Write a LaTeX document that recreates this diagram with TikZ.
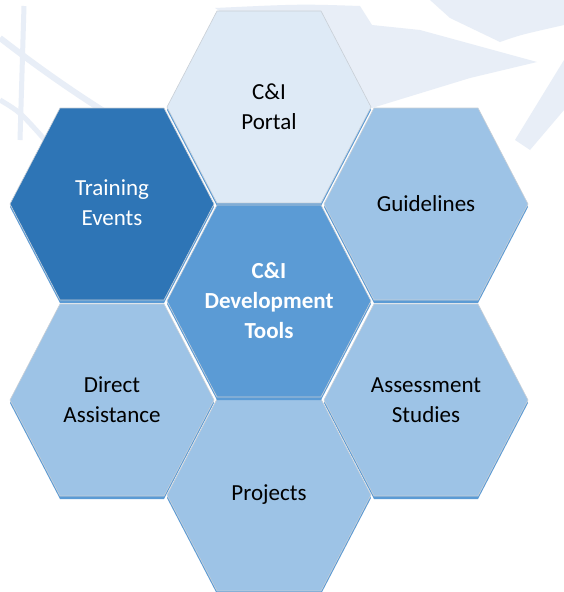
\documentclass[tikz,border=0pt]{standalone}
\usepackage{fontspec}
\setmainfont{Carlito}
\definecolor{portalfill}{HTML}{DEEAF6}
\definecolor{trainfill}{HTML}{2E75B6}
\definecolor{corefill}{HTML}{5B9BD5}
\definecolor{cellfill}{HTML}{9DC3E6}
\definecolor{cellshadow}{HTML}{5B9BD5}
\definecolor{celledge}{HTML}{C9CFD6}
\definecolor{watermark}{HTML}{E8EEF7}
\newcommand{\hexcell}[3]{%
  \fill[cellshadow] ([shift={(0,3)}]#1,#2) +(-102,0) -- +(-52,-96) -- +(52,-96) -- +(102,0) -- +(52,96) -- +(-52,96) -- cycle;
  \draw[fill=#3, draw=celledge, line width=0.6pt] (#1,#2) +(-102,0) -- +(-52,-96) -- +(52,-96) -- +(102,0) -- +(52,96) -- +(-52,96) -- cycle;}
\tikzset{
  celltext/.style={align=center, font=\fontsize{23}{30}\selectfont, text=black},
  lighttext/.style={celltext, text=white},
  coretext/.style={celltext, text=white, font=\fontsize{23}{30}\selectfont\bfseries}
}
\begin{document}
\begin{tikzpicture}[x=1pt, y=-1pt]
\useasboundingbox (0,0) rectangle (564,592);
\fill[white] (0,0) rectangle (564,592);
\draw[watermark, line width=5pt] (24,6) -- (20,140);
\draw[watermark, line width=6pt] (0,38) .. controls (35,65) and (70,90) .. (110,115);
\draw[watermark, line width=5pt] (0,100) .. controls (20,112) .. (45,140);
\fill[watermark] (215,8) .. controls (300,4) .. (360,6) -- (372,25) -- (420,30) -- (537,62) -- (470,78) -- (372,108) -- cycle;
\fill[watermark] (430,0) -- (564,0) -- (564,25) .. controls (520,35) .. (500,42) -- (450,18) -- cycle;
\fill[watermark] (564,60) -- (564,110) -- (530,150) -- (515,140) -- cycle;
\hexcell{269}{107}{portalfill}
\hexcell{112}{204}{trainfill}
\hexcell{426}{204}{cellfill}
\hexcell{112}{400}{cellfill}
\hexcell{426}{400}{cellfill}
\hexcell{269}{495}{cellfill}
\hexcell{269}{301}{corefill}
\node[celltext] (portal) at (269,107) {C\&I\\Portal};
\node[lighttext] (training) at (112,203) {Training\\Events};
\node[celltext] (guidelines) at (426,204) {Guidelines};
\node[coretext] (core) at (269,301) {C\&I\\Development\\Tools};
\node[celltext] (direct) at (112,400) {Direct\\Assistance};
\node[celltext] (assessment) at (426,400) {Assessment\\Studies};
\node[celltext] (projects) at (269,495) {Projects};
\end{tikzpicture}
\end{document}
